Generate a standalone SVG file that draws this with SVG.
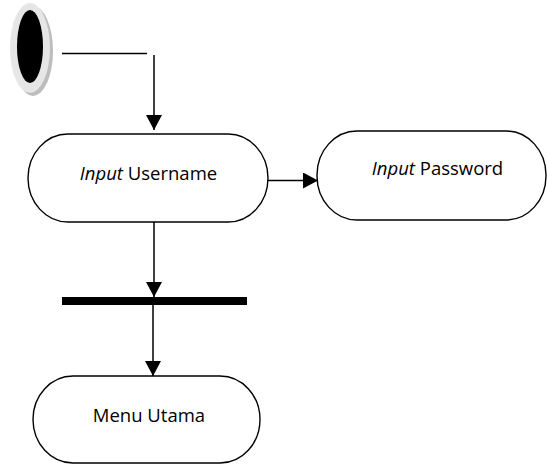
<svg xmlns="http://www.w3.org/2000/svg" width="547" height="465" viewBox="0 0 547 465">
<style>
.box{fill:#fff;stroke:#000;stroke-width:1.4}
.lbl{font-family:"Open Sans","Noto Sans",sans-serif;font-size:18.5px;fill:#000;text-anchor:middle}
.conn{fill:none;stroke:#000;stroke-width:1.5}
</style>
<defs>
<marker id="ah" markerUnits="userSpaceOnUse" markerWidth="16" markerHeight="16" viewBox="0 0 16 16" refX="15" refY="8" orient="auto">
<path d="M0,0 L15,8 L0,16 Z" fill="#000"/>
</marker>
</defs>
<g id="start">
<ellipse cx="33" cy="51" rx="20" ry="45" fill="#bdbdbd"/>
<ellipse cx="30" cy="48" rx="20" ry="45" fill="#e6e6e6"/>
<ellipse cx="30" cy="46.5" rx="13" ry="36.5" fill="#000"/>
</g>
<g id="input-username">
<rect class="box" x="28" y="134" width="240" height="88" rx="40" ry="44"/>
<text class="lbl" x="148.5" y="180"><tspan font-style="italic">Input</tspan> Username</text>
</g>
<g id="input-password">
<rect class="box" x="317" y="131" width="229" height="89" rx="40" ry="44"/>
<text class="lbl" x="437.5" y="175"><tspan font-style="italic">Input</tspan> Password</text>
</g>
<g id="fork-bar">
<rect x="62" y="297" width="185" height="8" fill="#000"/>
</g>
<g id="menu-utama">
<rect class="box" x="33" y="376" width="227" height="87" rx="40" ry="44"/>
<text class="lbl" x="149" y="422">Menu Utama</text>
</g>
<g id="connectors">
<path class="conn" d="M62,53.5 H147"/>
<path class="conn" d="M154,55 V130" marker-end="url(#ah)"/>
<path class="conn" d="M268,180.5 H318" marker-end="url(#ah)"/>
<path class="conn" d="M154,222 V297" marker-end="url(#ah)"/>
<path class="conn" d="M153,305 V376" marker-end="url(#ah)"/>
</g>
</svg>
